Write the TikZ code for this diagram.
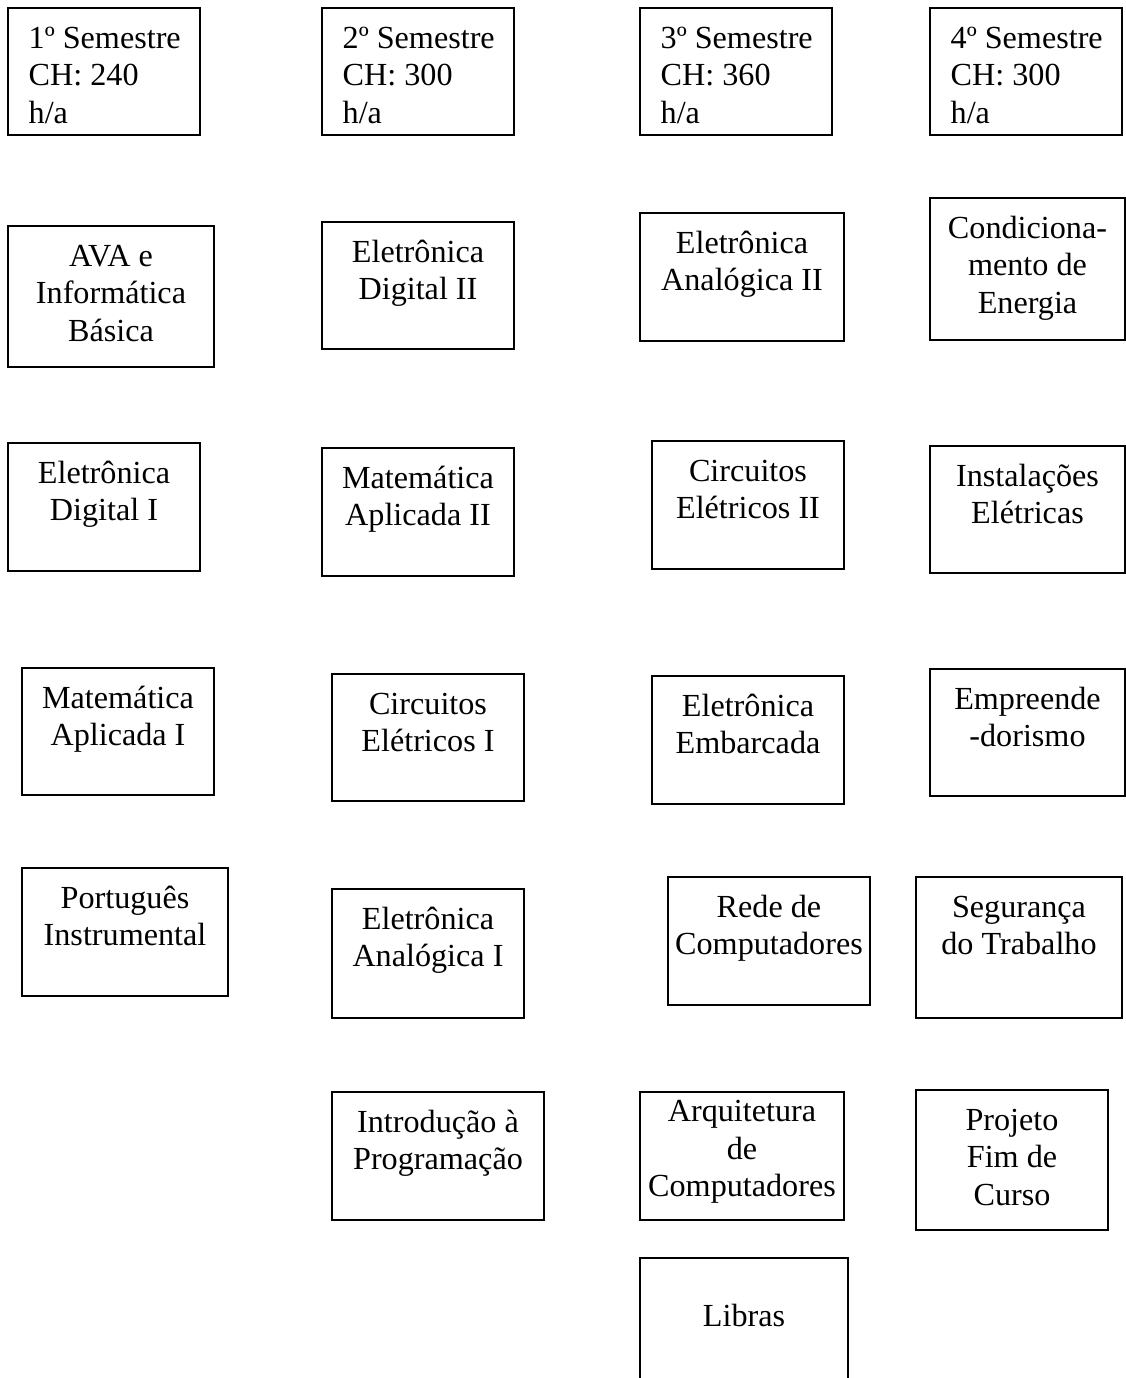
\documentclass[tikz,border=0pt]{standalone}
\usepackage{fontspec}
\setmainfont{Liberation Serif}
\usetikzlibrary{fit}
\begin{document}
\begin{tikzpicture}[x=0.373pt, y=-0.373pt,
		disc/.style={draw, line width=0.55pt, inner sep=0pt},
		txt/.style={anchor=north, inner sep=0pt, align=center, font=\fontsize{12}{14}\selectfont, yshift=-5.2pt},
		head/.style={anchor=north west, inner sep=0pt, align=left, font=\fontsize{12}{14}\selectfont, xshift=7.8pt, yshift=-5.2pt}]
			\useasboundingbox (0,0) rectangle (1126,1378);

			\node[disc, fit={(8,8) (200,135)}]		(sem1) {};
			\node[head] (sem1t) at (sem1.north west) {\strut 1º Semestre\\CH: 240\\h/a};
			\node[disc, fit={(322,8) (514,135)}]	(sem2) {};
			\node[head] (sem2t) at (sem2.north west) {\strut 2º Semestre\\CH: 300\\h/a};
			\node[disc, fit={(640,8) (832,135)}]	(sem3) {};
			\node[head] (sem3t) at (sem3.north west) {\strut 3º Semestre\\CH: 360\\h/a};
			\node[disc, fit={(930,8) (1122,135)}]	(sem4) {};
			\node[head] (sem4t) at (sem4.north west) {\strut 4º Semestre\\CH: 300\\h/a};

			\node[disc, fit={(8,226) (214,367)}]	(ava) {};
			\node[txt] (avat) at (ava.north) {\strut AVA e\\Informática\\Básica};
			\node[disc, fit={(322,222) (514,349)}]	(eldig2) {};
			\node[txt] (eldig2t) at (eldig2.north) {\strut Eletrônica\\Digital II};
			\node[disc, fit={(640,213) (844,341)}]	(elan2) {};
			\node[txt] (elan2t) at (elan2.north) {\strut Eletrônica\\Analógica II};
			\node[disc, fit={(930,198) (1125,340)}]	(cond) {};
			\node[txt] (condt) at (cond.north) {\strut Condiciona-\\mento de\\Energia};

			\node[disc, fit={(8,443) (200,571)}]	(eldig1) {};
			\node[txt] (eldig1t) at (eldig1.north) {\strut Eletrônica\\Digital I};
			\node[disc, fit={(322,448) (514,576)}]	(mat2) {};
			\node[txt] (mat2t) at (mat2.north) {\strut Matemática\\Aplicada II};
			\node[disc, fit={(652,441) (844,569)}]	(circ2) {};
			\node[txt] (circ2t) at (circ2.north) {\strut Circuitos\\Elétricos II};
			\node[disc, fit={(930,446) (1125,573)}]	(inst) {};
			\node[txt] (instt) at (inst.north) {\strut Instalações\\Elétricas};

			\node[disc, fit={(22,668) (214,795)}]	(mat1) {};
			\node[txt] (mat1t) at (mat1.north) {\strut Matemática\\Aplicada I};
			\node[disc, fit={(332,674) (524,801)}]	(circ1) {};
			\node[txt] (circ1t) at (circ1.north) {\strut Circuitos\\Elétricos I};
			\node[disc, fit={(652,676) (844,804)}]	(embarc) {};
			\node[txt] (embarct) at (embarc.north) {\strut Eletrônica\\Embarcada};
			\node[disc, fit={(930,669) (1125,796)}]	(empr) {};
			\node[txt] (emprt) at (empr.north) {\strut Empreende\\-dorismo};

			\node[disc, fit={(22,868) (228,996)}]	(port) {};
			\node[txt] (portt) at (port.north) {\strut Português\\Instrumental};
			\node[disc, fit={(332,889) (524,1018)}]	(elan1) {};
			\node[txt] (elan1t) at (elan1.north) {\strut Eletrônica\\Analógica I};
			\node[disc, fit={(668,877) (870,1005)}]	(rede) {};
			\node[txt] (redet) at (rede.north) {\strut Rede de\\Computadores};
			\node[disc, fit={(916,877) (1122,1018)}]	(seg) {};
			\node[txt] (segt) at (seg.north) {\strut Segurança\\do Trabalho};

			\node[disc, fit={(332,1092) (544,1220)}]	(intro) {};
			\node[txt] (introt) at (intro.north) {\strut Introdução à\\Programação};
			\node[disc, fit={(640,1092) (844,1220)}]	(arq) {};
			\node[txt, yshift=3.9pt] (arqt) at (arq.north) {\strut Arquitetura\\de\\Computadores};
			\node[disc, fit={(916,1090) (1108,1230)}]	(proj) {};
			\node[txt] (projt) at (proj.north) {\strut Projeto\\Fim de\\Curso};

			\node[disc, fit={(640,1258) (848,1395)}]	(libras) {};
			\node[txt, yshift=-10.7pt] (librast) at (libras.north) {\strut Libras};
		\end{tikzpicture}
\end{document}
